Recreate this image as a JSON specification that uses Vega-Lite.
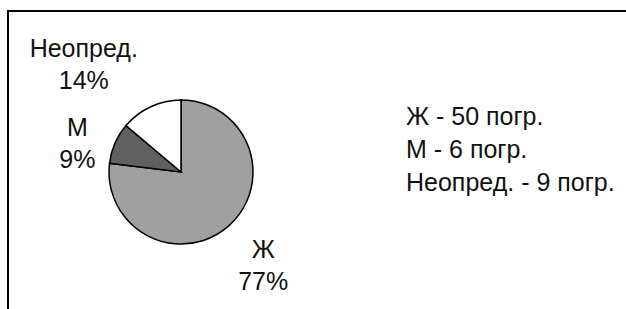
{
  "$schema": "https://vega.github.io/schema/vega-lite/v6.json",
  "width": 618,
  "height": 298,
  "autosize": {"type": "none"},
  "padding": {"left": 8, "top": 11, "right": 0, "bottom": 0},
  "background": "white",
  "view": {"stroke": "black", "strokeWidth": 2, "strokeDash": [618, 916, 298], "strokeCap": "square"},
  "config": {
    "view": {"stroke": "black", "strokeWidth": 2, "strokeDash": [618, 916, 298], "strokeCap": "square"},
    "style": {
      "view": {"stroke": "black", "strokeWidth": 2, "strokeDash": [618, 916, 298], "strokeCap": "square"}
    },
    "text": {"font": "Liberation Sans"}
  },
  "data": {
    "values": [
      {"cat": "Ж", "count": 50, "share": 0.77, "label": "Ж - 50 погр."},
      {"cat": "М", "count": 6, "share": 0.09, "label": "М - 6 погр."},
      {"cat": "Неопред.", "count": 9, "share": 0.14, "label": "Неопред. - 9 погр."}
    ]
  },
  "encoding": {
    "theta": {"field": "count", "type": "quantitative", "stack": true},
    "order": {"field": "cat", "type": "ordinal", "sort": "ascending"}
  },
  "layer": [
    {
      "mark": {"type": "arc", "outerRadius": 72, "stroke": "black", "strokeWidth": 1.5, "x": 173, "y": 161},
      "encoding": {
        "color": {
          "field": "label",
          "type": "nominal",
          "scale": {"domain": ["Ж - 50 погр.", "М - 6 погр.", "Неопред. - 9 погр."], "range": ["#a0a0a0", "#606060", "#ffffff"]},
          "legend": {
            "orient": "none",
            "legendX": 373,
            "legendY": 93,
            "title": null,
            "symbolSize": 0,
            "symbolStrokeWidth": 0,
            "symbolOpacity": 0,
            "labelFontSize": 25,
            "labelFont": "Liberation Sans",
            "labelColor": "#111111",
            "labelLimit": 400,
            "rowPadding": 7,
            "labelOffset": 0,
            "padding": 0
          }
        }
      }
    },
    {
      "mark": {
        "type": "text", "radius": 124, "x": 173, "y": 161, "fontSize": 25, "color": "#111111",
        "align": "center", "baseline": "middle",
        "dx": {"expr": "datum.cat === 'М' ? 10 : datum.cat === 'Ж' ? 0 : -45"},
        "dy": {"expr": "(datum.cat === 'М' ? 22 : datum.cat === 'Ж' ? 1 : 5) - 16"}
      },
      "encoding": {"text": {"field": "cat"}}
    },
    {
      "mark": {
        "type": "text", "radius": 124, "x": 173, "y": 161, "fontSize": 25, "color": "#111111",
        "align": "center", "baseline": "middle",
        "dx": {"expr": "datum.cat === 'М' ? 10 : datum.cat === 'Ж' ? 0 : -45"},
        "dy": {"expr": "(datum.cat === 'М' ? 22 : datum.cat === 'Ж' ? 1 : 5) + 16"}
      },
      "encoding": {"text": {"field": "share", "format": ".0%"}}
    }
  ]
}
